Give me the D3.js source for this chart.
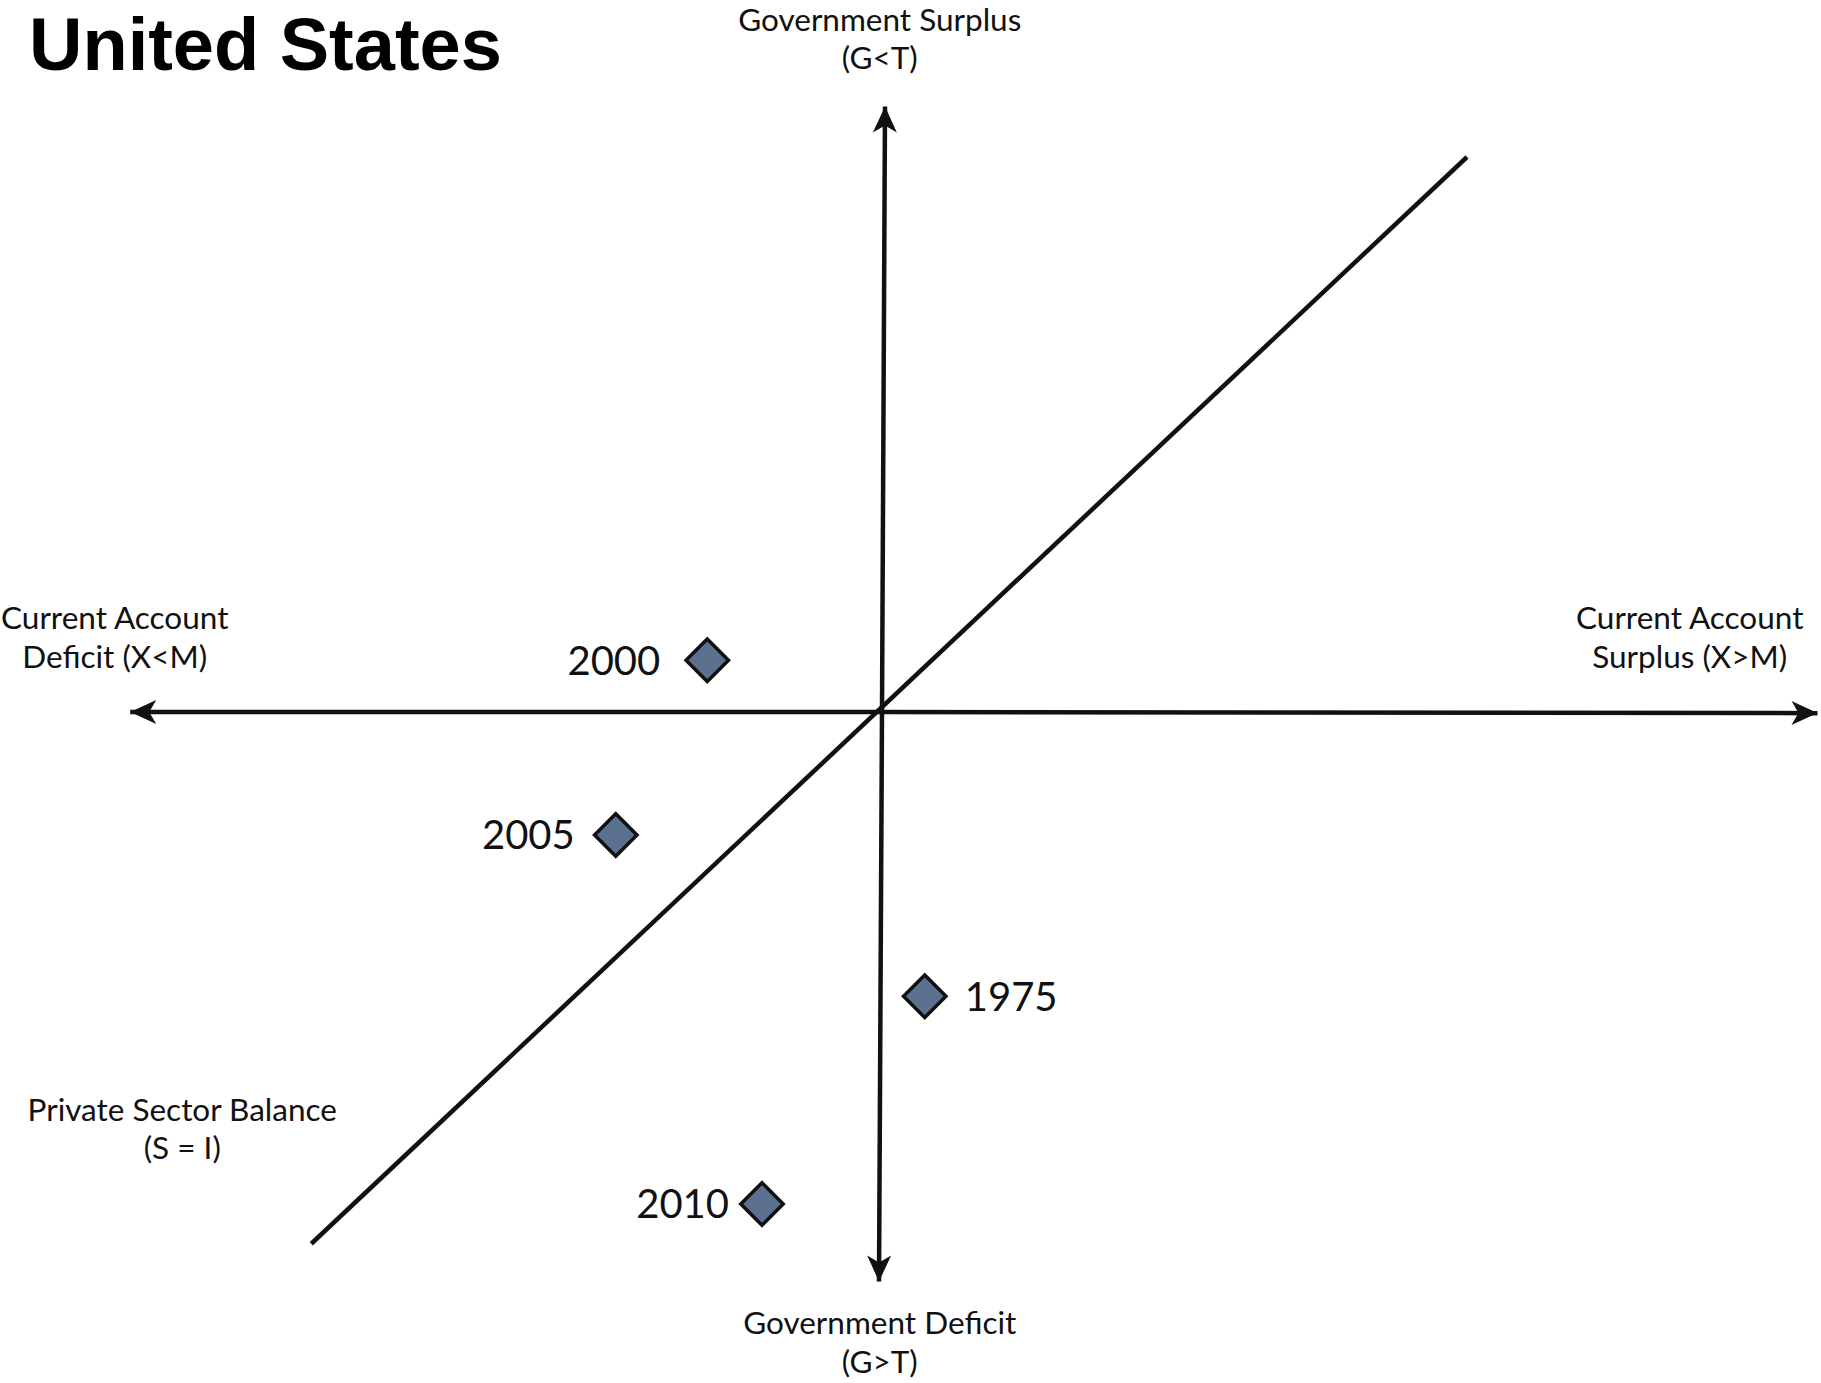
<!DOCTYPE html>
<html>
<head>
<meta charset="utf-8">
<script src="https://cdn.jsdelivr.net/npm/d3@7"></script>
<style>
  html, body { margin: 0; padding: 0; background: #fff; }
  svg { display: block; }
</style>
</head>
<body>
<svg id="chart" width="1821" height="1383"></svg>
<script>
// ---- Data (abstract sector-balance units) ----
const years = ["2000", "2005", "1975", "2010"];
const currentAccount = [-2.33, -3.55, 0.57, -1.60];   // x: current account balance
const govBalance = [0.69, -1.64, -3.79, -6.56];       // y: government balance
const labelSide = ["left", "left", "right", "left"];

// axis extents (ends of the arrows) and private-sector (S = I) line ends
const hAxisX = [-10.05, 12.5];
const hAxisY = [0, -0.015];
const vAxisX = [0.04, -0.04];
const vAxisY = [8.1, -7.62];
const diagX = [-7.61, 7.8];
const diagY = [-7.09, 7.4];

const axisLabels = [
  { lines: ["Government Surplus", "(G<T)"], x: -0.03, y: 9.23 },
  { lines: ["Government Deficit", "(G>T)"], x: -0.03, y: -8.15 },
  { lines: ["Current Account", "Deficit (X<M)"], x: -10.23, y: 1.25 },
  { lines: ["Current Account", "Surplus (X>M)"], x: 10.77, y: 1.25 },
  { lines: ["Private Sector Balance", "(S = I)"], x: -9.33, y: -5.3 }
];
const title = "United States";

// ---- Scales ----
const x = d3.scaleLinear().domain([-10, 10]).range([882 - 750, 882 + 750]);
const y = d3.scaleLinear().domain([-10, 10]).range([712 + 750, 712 - 750]);

const svg = d3.select("#chart");
const ink = "#111";
const lineW = 4.5;

// Arrow marker
const defs = svg.append("defs");
defs.append("marker")
  .attr("id", "arrow")
  .attr("viewBox", "-28 -13 30 26")
  .attr("refX", 0).attr("refY", 0)
  .attr("markerWidth", 30).attr("markerHeight", 26)
  .attr("markerUnits", "userSpaceOnUse")
  .attr("orient", "auto")
  .append("path")
  .attr("d", "M0,0 L-26,-12 L-19,0 L-26,12 Z")
  .attr("fill", ink);

// Title
svg.append("text")
  .attr("x", 29).attr("y", 70)
  .attr("font-family", "'Liberation Sans', Arial, sans-serif")
  .attr("font-weight", "bold")
  .attr("font-size", 74)
  .attr("fill", "#000")
  .text(title);

// Private sector balance line
svg.append("line")
  .attr("x1", x(diagX[0])).attr("y1", y(diagY[0]))
  .attr("x2", x(diagX[1])).attr("y2", y(diagY[1]))
  .attr("stroke", ink).attr("stroke-width", lineW);

// Horizontal axis (double-headed)
[0, 1].forEach(i => {
  svg.append("line")
    .attr("x1", x(0)).attr("y1", y(0))
    .attr("x2", x(hAxisX[i]) + (i === 0 ? 2 : -2)).attr("y2", y(hAxisY[i]))
    .attr("stroke", ink).attr("stroke-width", lineW)
    .attr("marker-end", "url(#arrow)");
});

// Vertical axis (double-headed)
[0, 1].forEach(i => {
  svg.append("line")
    .attr("x1", x(0)).attr("y1", y(0))
    .attr("x2", x(vAxisX[i])).attr("y2", y(vAxisY[i]) + (i === 0 ? 2 : -2))
    .attr("stroke", ink).attr("stroke-width", lineW)
    .attr("marker-end", "url(#arrow)");
});

// Axis labels
const fontFam = "Lato, 'Open Sans', sans-serif";
axisLabels.forEach(l => {
  const t = svg.append("text")
    .attr("text-anchor", "middle")
    .attr("font-family", fontFam)
    .attr("font-size", 31.5)
    .attr("fill", "#111");
  l.lines.forEach((s, i) => {
    t.append("tspan")
      .attr("x", x(l.x))
      .attr("y", y(l.y) + i * 38.5)
      .attr("dy", "0.35em")
      .text(s);
  });
});

// Points
const pts = years.map((yr, i) => ({ yr, cx: currentAccount[i], gy: govBalance[i], side: labelSide[i] }));
const labelGap = { "2000": 47, "2005": 41, "1975": 40, "2010": 33 };
const sym = d3.symbol().type(d3.symbolSquare).size(30 * 30);
svg.selectAll("path.pt").data(pts).join("path")
  .attr("class", "pt")
  .attr("d", sym)
  .attr("transform", d => `translate(${x(d.cx)},${y(d.gy)}) rotate(45)`)
  .attr("fill", "#5c7190")
  .attr("stroke", "#111")
  .attr("stroke-width", 3.5);

svg.selectAll("text.yr").data(pts).join("text")
  .attr("class", "yr")
  .attr("x", d => d.side === "left" ? x(d.cx) - labelGap[d.yr] : x(d.cx) + labelGap[d.yr])
  .attr("y", d => y(d.gy))
  .attr("dy", "0.36em")
  .attr("text-anchor", d => d.side === "left" ? "end" : "start")
  .attr("font-family", fontFam)
  .attr("font-size", 40)
  .attr("fill", "#111")
  .text(d => d.yr);
</script>
</body>
</html>
